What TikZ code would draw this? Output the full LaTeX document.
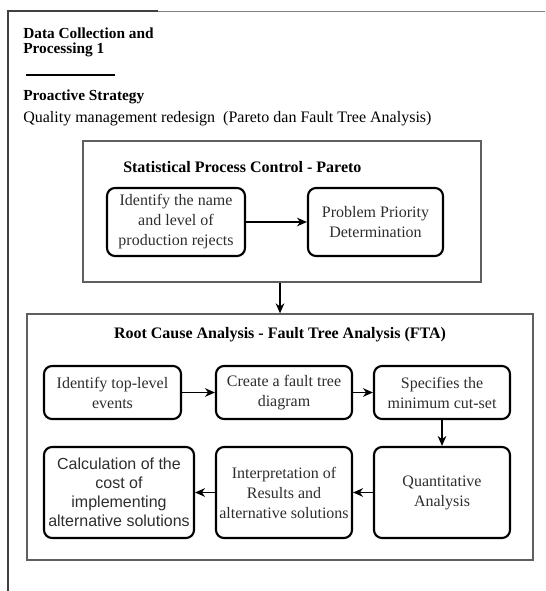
\documentclass[tikz,border=0pt]{standalone}
\usepackage{fontspec}
\setmainfont{Liberation Serif}
\setsansfont{Liberation Sans}
\usetikzlibrary{arrows.meta,positioning}
\definecolor{BoxText}{RGB}{45,45,45}
\definecolor{FrameGray}{RGB}{95,95,95}

\begin{document}
\begin{tikzpicture}[x=0.75pt, y=-0.75pt,
		font=\fontsize{12}{15}\selectfont,
		stepbox/.style={draw, line width=1.6pt, rounded corners=6pt, align=center, text=BoxText, inner sep=2pt},
		panel/.style={draw=FrameGray, line width=1pt, inner sep=0pt},
		arr/.style={-{Stealth[length=7.5pt, width=6.5pt]}, line width=1pt},
		heading/.style={font=\bfseries\fontsize{11.5}{11.8}\selectfont, inner sep=0pt}]
		\useasboundingbox (0,0) rectangle (545,591);
		
		% outer frame (left and top only)
		\coordinate (FL) at (8,591);
		\coordinate (FT) at (8,11);
		\coordinate (FM) at (158,11);
		\coordinate (FR) at (545,11);
		\draw[line width=1.5pt, black!75] (FL) -- (FT) -- (FM);
		\draw[line width=0.6pt, gray] (FM) -- (FR);
		
		% heading
		\node[heading, anchor=base west, align=left] (head) at (23,54) {Data Collection and\\Processing 1};
		\coordinate (RA) at (26,75);
		\coordinate (RB) at (115,75);
		\draw[line width=1pt] (RA) -- (RB);
		\node[heading, anchor=base west] (strategy) at (23,101) {Proactive Strategy};
		\node[anchor=base west, inner sep=0pt] (redesign) at (23,123) {Quality management redesign\ \ (Pareto dan Fault Tree Analysis)};
		
		% SPC - Pareto
		\node[panel, minimum width=298.5pt, minimum height=105.75pt] (spc) at (282,211.5) {};
		\node[heading, font=\bfseries\fontsize{12}{15}\selectfont, anchor=base west] (spcT) at (123,173) {Statistical Process Control - Pareto};
		\node[stepbox, minimum width=103.5pt, minimum height=51pt] (reject) at (176,222) {Identify the name\\and level of\\production rejects};
		\node[stepbox, minimum width=101.25pt, minimum height=51pt] (priority) at (375.5,222) {Problem Priority\\Determination};
		\draw[arr] (reject) -- (priority);
		
		% RCA - FTA
		\node[panel, minimum width=379.5pt, minimum height=184.5pt] (fta) at (280,437) {};
		\node[heading, font=\bfseries\fontsize{12}{15}\selectfont, anchor=base] (ftaT) at (280,338) {Root Cause Analysis - Fault Tree Analysis (FTA)};
		\draw[arr] (spc.south -| fta.north) -- (fta.north);
		
		\node[stepbox, minimum width=102.75pt, minimum height=39.75pt] (top) at (112.5,392.5) {Identify top-level\\events};
		\node[stepbox, minimum width=102pt, minimum height=39.75pt] (tree) at (284,392.5) {Create a fault tree\\diagram};
		\node[stepbox, minimum width=102pt, minimum height=39.75pt] (cut) at (442,392.5) {Specifies the\\minimum cut-set};
		\node[stepbox, minimum width=102pt, minimum height=68.25pt] (quant) at (442,492.5) {Quantitative\\Analysis};
		\node[stepbox, minimum width=102pt, minimum height=68.25pt] (interp) at (284,492.5) {Interpretation of\\Results and\\alternative solutions};
		\node[stepbox, minimum width=112.5pt, minimum height=68.25pt, font=\sffamily\fontsize{12}{14.2}\selectfont] (cost) at (119,492.5) {Calculation of the\\cost of\\implementing\\alternative solutions};
		
		\draw[arr] (top) -- (tree);
		\draw[arr] (tree) -- (cut);
		\draw[arr] (cut) -- (quant);
		\draw[arr] (quant) -- (interp);
		\draw[arr] (interp) -- (cost);
	\end{tikzpicture}
\end{document}
